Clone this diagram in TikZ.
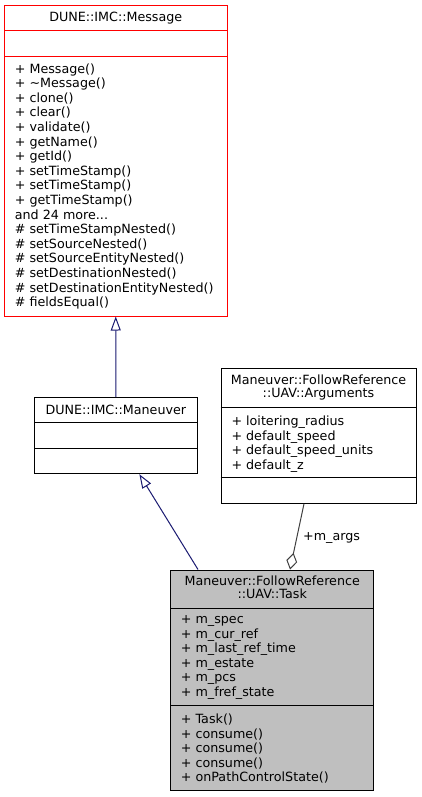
\documentclass[tikz,border=0pt]{standalone}
\usepackage{fontspec}
\setmainfont{DejaVu Sans}
\usetikzlibrary{arrows.meta}
\definecolor{edgeblue}{HTML}{191970}
\definecolor{taskgray}{HTML}{BFBFBF}
\definecolor{aggrgray}{HTML}{404040}

\begin{document}
\begin{tikzpicture}[x=1pt, y=-1pt,
  classbox/.style={draw, line width=1pt, inner sep=0pt},
  member/.style={anchor=north west, align=left, inner sep=0pt, font=\fontsize{12.7}{14.6}\selectfont},
  title/.style={align=center, inner sep=0pt, font=\fontsize{12.7}{13.3}\selectfont},
  inherit/.style={draw=edgeblue, line width=1pt, -{Triangle[open, length=14pt, width=10pt]}},
  aggr/.style={draw=aggrgray, line width=1pt, -{Diamond[open, length=17pt, width=11pt]}}]
\useasboundingbox (0,0) rectangle (421,797);

		% the four classes
		\node[classbox, draw=red, minimum width=222.5pt, minimum height=310.3pt] (msg) at (115.75,160.85) {};
		\draw[red, line width=1pt] ([yshift=-25.3pt]msg.north west) -- ([yshift=-25.3pt]msg.north east)
		([yshift=-51.3pt]msg.north west) -- ([yshift=-51.3pt]msg.north east);
		\node[title] (msgname) at (115.75,18.4) {DUNE::IMC::Message};
		\node[member] (msgops) at (14.7,63.3) {+ Message()\\+ \textasciitilde Message()\\+ clone()\\+ clear()\\+ validate()\\+ getName()\\+ getId()\\+ setTimeStamp()\\+ setTimeStamp()\\+ getTimeStamp()\\and 24 more...\\\# setTimeStampNested()\\\# setSourceNested()\\\# setSourceEntityNested()\\\# setDestinationNested()\\\# setDestinationEntityNested()\\\# fieldsEqual()};

		\node[classbox, minimum width=162.3pt, minimum height=76pt] (man) at (115.85,435.7) {};
		\draw[line width=1pt] ([yshift=-25pt]man.north west) -- ([yshift=-25pt]man.north east)
		([yshift=-51pt]man.north west) -- ([yshift=-51pt]man.north east);
		\node[title] (manname) at (115.85,410.2) {DUNE::IMC::Maneuver};

		\node[classbox, minimum width=195pt, minimum height=134.6pt] (args) at (318.5,436) {};
		\draw[line width=1pt] ([yshift=-39.6pt]args.north west) -- ([yshift=-39.6pt]args.north east)
		([yshift=-109pt]args.north west) -- ([yshift=-109pt]args.north east);
		\node[title] (argsname) at (318.5,387.3) {Maneuver::FollowReference\\::UAV::Arguments};
		\node[member] (argsattr) at (231.3,415.7) {+ loitering\_radius\\+ default\_speed\\+ default\_speed\_units\\+ default\_z};

		\node[classbox, fill=taskgray, minimum width=203pt, minimum height=220.7pt] (task) at (272.2,680.35) {};
		\draw[line width=1pt] ([yshift=-39pt]task.north west) -- ([yshift=-39pt]task.north east)
		([yshift=-135.7pt]task.north west) -- ([yshift=-135.7pt]task.north east);
		\node[title] (taskname) at (272.2,587.2) {Maneuver::FollowReference\\::UAV::Task};
		\node[member] (taskattr) at (180.7,615.4) {+ m\_spec\\+ m\_cur\_ref\\+ m\_last\_ref\_time\\+ m\_estate\\+ m\_pcs\\+ m\_fref\_state};
		\node[member] (taskops) at (180.7,713.7) {+ Task()\\+ consume()\\+ consume()\\+ consume()\\+ onPathControlState()};

		% relations
		\draw[inherit] (man.north) -- (msg.south);
		\draw[inherit] ([xshift=-74.2pt]task.north) -- ([xshift=23.5pt]man.south);
		\draw[aggr] ([xshift=-14.5pt]args.south) -- node[pos=0.52, anchor=west, xshift=6pt, inner sep=0pt, font=\fontsize{12.7}{14.6}\selectfont]{+m\_args} ([xshift=17.8pt]task.north);
		\end{tikzpicture}
\end{document}
